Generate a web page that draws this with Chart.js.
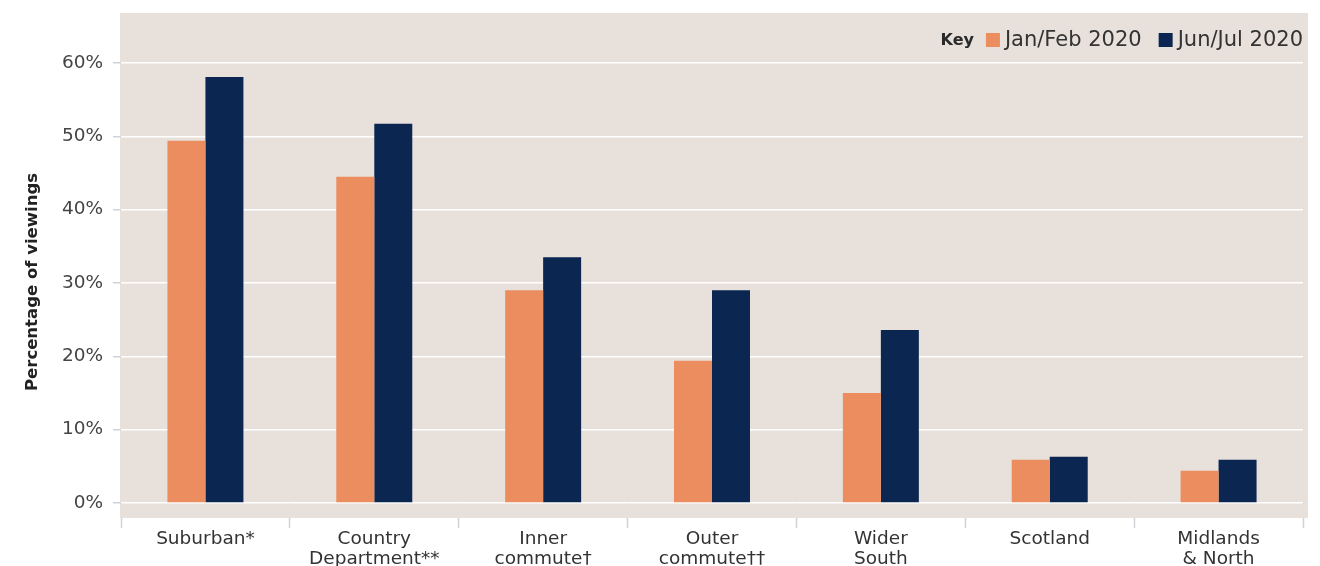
<!DOCTYPE html>
<html><head><meta charset="utf-8">
<script src="https://cdn.jsdelivr.net/npm/chart.js@4.4.1/dist/chart.umd.min.js"></script>
<style>html,body{margin:0;padding:0;background:#fff}#wrap{width:1320px;height:566px;position:relative}</style>
</head><body><div id="wrap"><canvas id="c"></canvas></div>
<script>
const categories = [["Suburban*"], ["Country", "Department**"], ["Inner", "commute\u2020"], ["Outer", "commute\u2020\u2020"], ["Wider", "South"], ["Scotland"], ["Midlands", "& North"]];
const janFeb2020 = [49.4, 44.5, 29.0, 19.4, 15.0, 5.9, 4.4];
const junJul2020 = [58.1, 51.7, 33.5, 29.0, 23.6, 6.3, 5.9];
const seriesLabels = ["Jan/Feb 2020", "Jun/Jul 2020"];
const yTickValues = [0, 10, 20, 30, 40, 50, 60];
const yAxisTitle = "Percentage of viewings";
const keyLabel = "Key";

const PANEL = '#e8e0db';
const ORANGE = '#eb8d5e';
const NAVY = '#0b2650';
const FONT = '"DejaVu Sans", sans-serif';

const panelPlugin = {
  id: 'panel',
  beforeDraw(chart) {
    const {ctx, chartArea: a} = chart;
    ctx.save();
    ctx.fillStyle = PANEL;
    ctx.fillRect(a.left - 1, 13, a.right - a.left + 6, a.bottom + 15 - 13);
    ctx.restore();
  },
  beforeDatasetsDraw(chart) {
    const {ctx, chartArea: a} = chart;
    ctx.save();
    ctx.fillStyle = PANEL;
    ctx.fillRect(a.left - 1, a.bottom + 1, a.right - a.left + 6, 14);
    ctx.restore();
  }
};

const keyPlugin = {
  id: 'keyLegend',
  afterDraw(chart) {
    const {ctx, chartArea: a} = chart;
    const y = 40;
    const box = 14, boxGap = 5, itemGap = 17, keyGap = 12;
    ctx.save();
    ctx.textBaseline = 'middle';
    ctx.font = '400 21px ' + FONT;
    const items = chart.data.datasets.map(d => ({label: d.label, color: d.backgroundColor, w: ctx.measureText(d.label).width}));
    let total = 0;
    items.forEach((it, i) => { total += box + boxGap + it.w + (i ? itemGap : 0); });
    ctx.font = '700 16px ' + FONT;
    const kw = ctx.measureText(keyLabel).width;
    let x = a.right - total - keyGap - kw;
    ctx.fillStyle = '#2a2a2a';
    ctx.textAlign = 'left';
    ctx.fillText(keyLabel, x, y + 1);
    x += kw + keyGap;
    ctx.font = '400 21px ' + FONT;
    items.forEach((it, i) => {
      if (i) x += itemGap;
      ctx.fillStyle = it.color;
      ctx.fillRect(x, y - box / 2, box, box);
      x += box + boxGap;
      ctx.fillStyle = '#333333';
      ctx.fillText(it.label, x, y + 1);
      x += it.w;
    });
    ctx.restore();
  }
};

new Chart(document.getElementById('c'), {
  type: 'bar',
  data: {
    labels: categories,
    datasets: [
      {label: seriesLabels[0], data: janFeb2020, backgroundColor: ORANGE},
      {label: seriesLabels[1], data: junJul2020, backgroundColor: NAVY}
    ]
  },
  options: {
    responsive: true,
    maintainAspectRatio: false,
    animation: false,
    events: [],
    layout: {padding: {top: 61, right: 17, left: 0, bottom: 0}},
    datasets: {bar: {categoryPercentage: 0.45, barPercentage: 1.0}},
    plugins: {legend: {display: false}, tooltip: {enabled: false}},
    scales: {
      x: {
        grid: {offset: true, drawOnChartArea: false, drawTicks: true, tickLength: 25, tickColor: '#cfd3d8', tickWidth: 1.5},
        border: {display: false},
        ticks: {color: '#333333', font: {family: FONT, size: 18.5, lineHeight: 1.1}, padding: 1, maxRotation: 0, autoSkip: false},
        afterFit(s) { s.height = 63; }
      },
      y: {
        min: 0,
        max: 60.27,
        afterBuildTicks(s) { s.ticks = yTickValues.map(v => ({value: v})); },
        grid: {color: '#ffffff', lineWidth: 1.5, tickColor: '#cfd3d8', tickLength: 8, drawTicks: true},
        border: {display: false},
        ticks: {color: '#444444', font: {family: FONT, size: 18.5}, padding: 10, callback: v => v + '%'},
        title: {display: true, text: yAxisTitle, color: '#222222', font: {family: FONT, size: 16.5, weight: 'bold'}, padding: {top: 23, bottom: 0}},
        afterFit(s) { s.width = 121; }
      }
    }
  },
  plugins: [panelPlugin, keyPlugin]
});
</script>
</body></html>
